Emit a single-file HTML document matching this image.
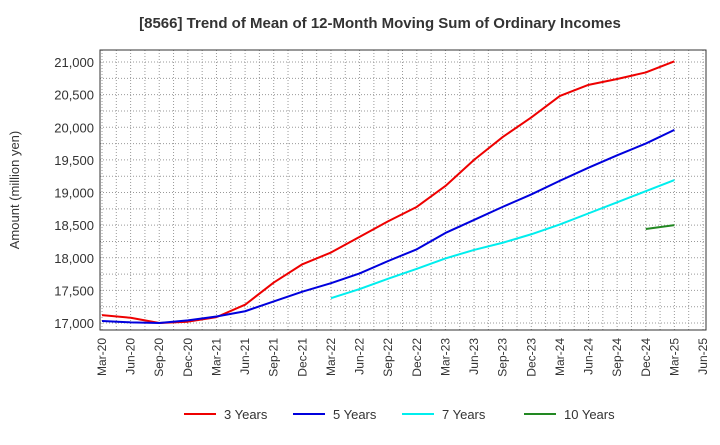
<!DOCTYPE html>
<html><head><meta charset="utf-8"><style>
body{margin:0;background:#fff;font-family:"Liberation Sans",sans-serif;}
</style></head><body>
<svg id="c" width="720" height="440" xmlns="http://www.w3.org/2000/svg">
<text x="380" y="28" text-anchor="middle" font-size="15" font-weight="bold" fill="#333">[8566]  Trend of Mean of 12-Month Moving Sum of Ordinary Incomes</text>
<text transform="translate(19,190) rotate(-90)" text-anchor="middle" font-size="13" fill="#333">Amount (million yen)</text>
<g id="grid"></g><g id="series"></g><g id="axes"></g><g id="legend"></g>
</svg>
<script>
const xLabels=["Mar-20","Jun-20","Sep-20","Dec-20","Mar-21","Jun-21","Sep-21","Dec-21","Mar-22","Jun-22","Sep-22","Dec-22","Mar-23","Jun-23","Sep-23","Dec-23","Mar-24","Jun-24","Sep-24","Dec-24","Mar-25","Jun-25"];
const yTicks=[17000,17500,18000,18500,19000,19500,20000,20500,21000];
const s3=[17120,17080,17000,17020,17090,17280,17620,17900,18080,18320,18560,18780,19100,19500,19850,20150,20480,20650,20740,20840,21010];
const s5=[17030,17010,17000,17040,17100,17180,17330,17480,17610,17760,17950,18130,18380,18580,18780,18970,19180,19380,19570,19750,19960];
const s7=[17380,17520,17680,17830,17990,18120,18230,18360,18510,18680,18850,19020,19190];
const s10=[18440,18500];
const seriesDefs=[["3 Years",s3,0,"#ee0000"],["5 Years",s5,0,"#0000dd"],["7 Years",s7,8,"#00eeee"],["10 Years",s10,19,"#228822"]];
const L=100,R=706,T=50,B=330;
const X=i=>102+i*(703-102)/21;
const Y=v=>323-(v-17000)*(323-62)/4000;
const ns="http://www.w3.org/2000/svg";
function mk(p,t,a){const e=document.createElementNS(ns,t);for(const k in a)e.setAttribute(k,a[k]);p.appendChild(e);return e;}
const g=document.getElementById('grid'),ax=document.getElementById('axes'),se=document.getElementById('series'),lg=document.getElementById('legend');
for(let i=0;i<=42;i++){const x=102+i*(703-102)/42;const l=mk(g,'line',{x1:x,x2:x,y1:T,y2:B,stroke:'#999','stroke-dasharray':'1,2','stroke-width':1});
}
for(let v=16750;v<=21250;v+=250){const y=Y(v);if(y<T||y>B)continue;const l=mk(g,'line',{x1:L,x2:R,y1:y,y2:y,stroke:'#999','stroke-dasharray':'1,2','stroke-width':1});
}
const f=mk(ax,'rect',{x:L,y:T,width:R-L,height:B-T,fill:'none',stroke:'#333'});

yTicks.forEach(v=>{const t=mk(ax,'text',{x:L-6,y:Y(v)+5,'text-anchor':'end','font-size':13,fill:'#333'});t.textContent=v.toLocaleString('en-US');
});
xLabels.forEach((s,i)=>{const x=X(i);const t=mk(ax,'text',{transform:`translate(${x+4},${B+8}) rotate(-90)`,'text-anchor':'end','font-size':12,fill:'#333'});t.textContent=s;
});
seriesDefs.forEach(([n,d,o,c],k)=>{const p=mk(se,'polyline',{points:d.map((v,i)=>X(i+o)+','+Y(v)).join(' '),fill:'none',stroke:c,'stroke-width':2,'stroke-linejoin':'round'});

const lx=[184,293,402,524][k];
const gl=mk(lg,'g',{});
mk(gl,'line',{x1:lx,x2:lx+32,y1:414,y2:414,stroke:c,'stroke-width':2});
const t=mk(gl,'text',{x:lx+40,y:419,'font-size':13,fill:'#333'});t.textContent=n;});
</script>
</body></html>
